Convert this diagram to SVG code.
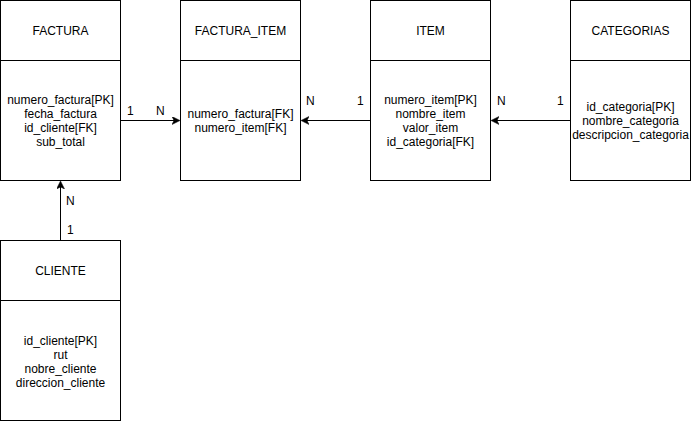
<svg xmlns="http://www.w3.org/2000/svg" width="691" height="421" viewBox="0 0 691 421">
<style>
.box{fill:#fff;stroke:#000;stroke-width:1}
.t{font-family:"Liberation Sans",Arial,Helvetica,sans-serif;font-size:12px;fill:#000;text-anchor:middle}
.l{font-family:"Liberation Sans",Arial,Helvetica,sans-serif;font-size:12px;fill:#000}
.c{fill:none;stroke:#000;stroke-width:1}
</style>
<defs>
<marker id="arr" markerWidth="10" markerHeight="10" refX="7" refY="4" orient="auto" markerUnits="userSpaceOnUse">
<path d="M0,0 L8,4 L0,8 L2,4 Z" fill="#000" stroke="#000" stroke-width="0.5"/>
</marker>
</defs>
<rect width="691" height="421" fill="#fff"/>
<g id="connectors">
<path class="c" d="M120.5,120.5 H179" marker-end="url(#arr)"/>
<path class="c" d="M370.5,120.5 H302" marker-end="url(#arr)"/>
<path class="c" d="M570.5,120.5 H492" marker-end="url(#arr)"/>
<path class="c" d="M60.5,240.5 V182" marker-end="url(#arr)"/>
<text class="l" x="127" y="115">1</text>
<text class="l" x="156" y="115">N</text>
<text class="l" x="306" y="105">N</text>
<text class="l" x="357" y="105">1</text>
<text class="l" x="497" y="105">N</text>
<text class="l" x="557" y="105">1</text>
<text class="l" x="66" y="205">N</text>
<text class="l" x="67" y="234">1</text>
</g>
<g id="factura">
<rect class="box" x="0.5" y="0.5" width="120" height="180"/>
<line class="c" x1="0.5" y1="60.5" x2="120.5" y2="60.5"/>
<text class="t" x="60.5" y="35">FACTURA</text>
<text class="t" x="60.5" y="104">numero_factura[PK]</text>
<text class="t" x="60.5" y="118">fecha_factura</text>
<text class="t" x="60.5" y="132">id_cliente[FK]</text>
<text class="t" x="60.5" y="146">sub_total</text>
</g>
<g id="factura_item">
<rect class="box" x="180.5" y="0.5" width="120" height="180"/>
<line class="c" x1="180.5" y1="60.5" x2="300.5" y2="60.5"/>
<text class="t" x="240.5" y="35">FACTURA_ITEM</text>
<text class="t" x="240.5" y="118">numero_factura[FK]</text>
<text class="t" x="240.5" y="132">numero_item[FK]</text>
</g>
<g id="item">
<rect class="box" x="370.5" y="0.5" width="120" height="180"/>
<line class="c" x1="370.5" y1="60.5" x2="490.5" y2="60.5"/>
<text class="t" x="430.5" y="35">ITEM</text>
<text class="t" x="430.5" y="104">numero_item[PK]</text>
<text class="t" x="430.5" y="118">nombre_item</text>
<text class="t" x="430.5" y="132">valor_item</text>
<text class="t" x="430.5" y="146">id_categoria[FK]</text>
</g>
<g id="categorias">
<rect class="box" x="570.5" y="0.5" width="120" height="180"/>
<line class="c" x1="570.5" y1="60.5" x2="690.5" y2="60.5"/>
<text class="t" x="630.5" y="35">CATEGORIAS</text>
<text class="t" x="630.5" y="111">id_categoria[PK]</text>
<text class="t" x="630.5" y="125">nombre_categoria</text>
<text class="t" x="630.5" y="139">descripcion_categoria</text>
</g>
<g id="cliente">
<rect class="box" x="0.5" y="240.5" width="120" height="180"/>
<line class="c" x1="0.5" y1="300.5" x2="120.5" y2="300.5"/>
<text class="t" x="60.5" y="275">CLIENTE</text>
<text class="t" x="60.5" y="345">id_cliente[PK]</text>
<text class="t" x="60.5" y="359">rut</text>
<text class="t" x="60.5" y="373">nobre_cliente</text>
<text class="t" x="60.5" y="387">direccion_cliente</text>
</g>
</svg>
